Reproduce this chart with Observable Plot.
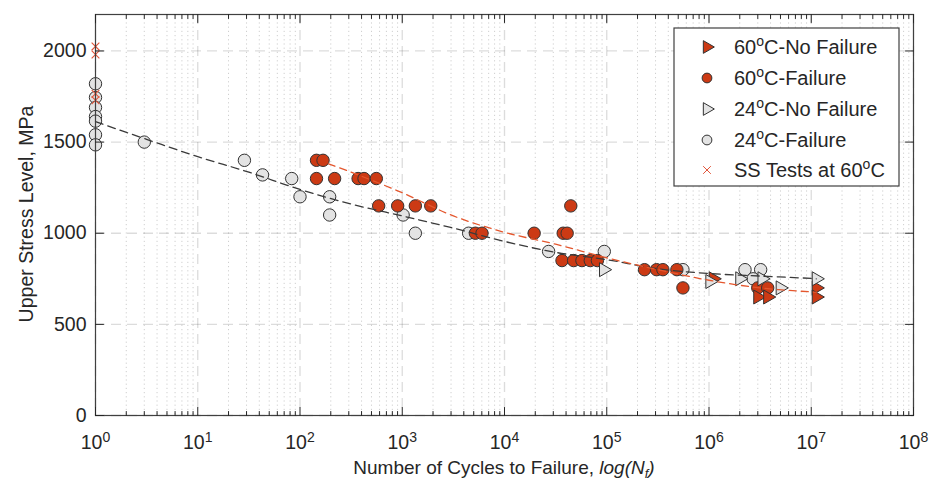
<!DOCTYPE html>
<html><head><meta charset="utf-8">
<script src="https://cdn.jsdelivr.net/npm/d3@7"></script>
<script src="https://cdn.jsdelivr.net/npm/@observablehq/plot@0.6"></script>
<style>body{margin:0;background:#fff}</style>
</head><body><div id="chart"></div>
<script>
// ---- data ----
const noFail60N = [1.1e6, 3.0e6, 3.75e6, 1.12e7, 1.12e7];
const noFail60S = [750, 650, 650, 700, 650];

const fail60N = [145, 168, 145, 218, 370, 423, 558, 588, 902, 1343, 1900, 5190, 6025, 19500, 37500, 41000, 44500,
  36500, 47400, 57200, 69000, 81000, 234000, 307000, 354000, 485000, 556000, 3.0e6, 3.75e6];
const fail60S = [1400, 1400, 1300, 1300, 1300, 1300, 1300, 1150, 1150, 1150, 1150, 1000, 1000, 1000, 1000, 1000, 1150,
  850, 850, 850, 850, 850, 800, 800, 800, 800, 700, 700, 700];

const noFail24N = [93000, 1.02e6, 2.0e6, 3.3e6, 4.97e6, 1.12e7];
const noFail24S = [800, 735, 750, 750, 700, 750];

const fail24N = [1, 1, 1, 1, 1, 1, 1, 3, 28.6, 43, 83, 100, 195, 195, 1020, 1343, 4460, 27000, 94600, 556000, 2.25e6, 3.2e6, 2.7e6];
const fail24S = [1820, 1745, 1690, 1640, 1615, 1540, 1485, 1500, 1400, 1320, 1300, 1200, 1200, 1100, 1100, 1000, 1000, 900, 900, 800, 800, 800, 750];

const ss60N = [1, 1, 1, 1];
const ss60S = [2025, 1980, 1765, 1730];

const fit24N = [1, 3.16, 10, 31.6, 100, 316, 1000, 3160, 1e4, 3.16e4, 1e5, 3.16e5, 1e6, 3.16e6, 1e7, 1.12e7];
const fit24S = [1612, 1515, 1420, 1335, 1240, 1160, 1095, 1028, 955, 895, 855, 805, 779, 765, 752, 750];

const fit60N = [190, 316, 1000, 3160, 1e4, 3.16e4, 1e5, 3.16e5, 1e6, 3.16e6, 1e7, 1.12e7];
const fit60S = [1380, 1335, 1222, 1095, 1005, 940, 865, 800, 742, 700, 678, 676];

const xMajorTicks = [1, 10, 100, 1e3, 1e4, 1e5, 1e6, 1e7, 1e8];
const xTickExponents = ["0", "1", "2", "3", "4", "5", "6", "7", "8"];
const yTicks = [0, 500, 1000, 1500, 2000];

const legendLabels = [
  ["60", "C-No Failure"],
  ["60", "C-Failure"],
  ["24", "C-No Failure"],
  ["24", "C-Failure"],
  ["SS Tests at 60", "C"]
];

// ---- build tables ----
const zip = (N, S) => N.map((n, i) => ({n, s: S[i]}));
const noFail60 = zip(noFail60N, noFail60S);
const fail60 = zip(fail60N, fail60S);
const noFail24 = zip(noFail24N, noFail24S);
const fail24 = zip(fail24N, fail24S);
const ss60 = zip(ss60N, ss60S);
const fit24 = zip(fit24N, fit24S);
const fit60 = zip(fit60N, fit60S);

const xMinorTicks = [];
xMajorTicks.slice(0, -1).forEach(d => { for (let k = 2; k <= 9; k++) xMinorTicks.push(d * k); });

const RED = "#cc3a14", GRAY = "#e3e3e3", EDGE = "#333333", AX = "#262626";
const tickShape = {draw(ctx, l) { ctx.moveTo(0, 0); ctx.lineTo(0, -l); }};
const ticks = (data, ch, anchor, rot, len) => Plot.vector(data, {
  [ch]: d => d, frameAnchor: anchor, rotate: rot, length: len, anchor: "start",
  shape: tickShape, stroke: AX, strokeWidth: 1
});

const svg = Plot.plot({
  width: 932, height: 480,
  marginLeft: 95, marginRight: 19, marginTop: 14, marginBottom: 65,
  style: {fontFamily: "'Liberation Sans', Arial, sans-serif", fontSize: "19.5px", color: AX, background: "#fff"},
  x: {type: "log", domain: [1, 1e8]},
  y: {domain: [0, 2200]},
  marks: [
    Plot.gridX(xMinorTicks, {stroke: AX, strokeOpacity: 0.22, strokeDasharray: "1.2,3"}),
    Plot.gridX(xMajorTicks, {stroke: AX, strokeOpacity: 0.16, strokeDasharray: "10,6", strokeWidth: 1.3}),
    Plot.gridY(yTicks, {stroke: AX, strokeOpacity: 0.16, strokeDasharray: "10,6", strokeWidth: 1.3}),
    Plot.dot(fail24, {x: "n", y: "s", r: 6.2, fill: GRAY, stroke: EDGE, strokeWidth: 1}),
    Plot.dot(fail60, {x: "n", y: "s", r: 6.2, fill: RED, stroke: EDGE, strokeWidth: 1}),
    Plot.dot(noFail60, {x: "n", y: "s", r: 5.2, symbol: "triangle", rotate: 90, fill: RED, stroke: EDGE, strokeWidth: 1}),
    Plot.dot(noFail24, {x: "n", y: "s", r: 5.2, symbol: "triangle", rotate: 90, fill: GRAY, stroke: EDGE, strokeWidth: 1}),
    Plot.dot(ss60, {x: "n", y: "s", r: 3.6, symbol: "times", stroke: "#e2553a", strokeWidth: 1.1}),
    Plot.line(fit24, {x: "n", y: "s", curve: "catmull-rom", stroke: "#3a3a3a", strokeWidth: 1.3, strokeDasharray: "8,5"}),
    Plot.line(fit60, {x: "n", y: "s", curve: "catmull-rom", stroke: "#e4572e", strokeWidth: 1.3, strokeDasharray: "7,5"}),
    Plot.frame({stroke: "#404040", strokeWidth: 1.2}),
    ticks(xMajorTicks, "x", "bottom", 0, 8),
    ticks(xMinorTicks, "x", "bottom", 0, 4),
    ticks(xMajorTicks, "x", "top", 180, 8),
    ticks(xMinorTicks, "x", "top", 180, 4),
    ticks(yTicks, "y", "left", 90, 8),
    ticks(yTicks, "y", "right", -90, 8),
    Plot.axisX(xMajorTicks, {tickSize: 0, tickPadding: 20, label: null,
      tickFormat: d => "10^" + xTickExponents[xMajorTicks.indexOf(d)]}),
    Plot.axisY(yTicks, {tickSize: 0, tickPadding: 9, label: null, tickFormat: d => String(d)})
  ]
});

document.getElementById("chart").appendChild(svg);
const root = d3.select(svg);

// superscripts in x tick labels
root.selectAll('g[aria-label="x-axis tick label"] text').each(function () {
  const t = this.textContent;
  const parts = t.split("^");
  if (parts.length !== 2) return;
  const el = d3.select(this);
  el.text(parts[0]);
  el.append("tspan").attr("dy", "-0.5em").attr("font-size", "0.72em").text(parts[1]);
});

const font = "'Liberation Sans', Arial, sans-serif";

// x label
const xl = root.append("text").attr("x", 504).attr("y", 474).attr("text-anchor", "middle")
  .attr("font-family", font).attr("font-size", 19).attr("fill", AX);
xl.append("tspan").text("Number of Cycles to Failure, ");
xl.append("tspan").attr("font-style", "italic").text("log(N");
xl.append("tspan").attr("font-style", "italic").attr("font-size", 13).attr("dy", 4).text("f");
xl.append("tspan").attr("font-style", "italic").attr("dy", -4).text(")");

// y label
root.append("text").attr("transform", "translate(33,214) rotate(-90)").attr("text-anchor", "middle")
  .attr("font-family", font).attr("font-size", 19.5).attr("fill", AX).text("Upper Stress Level, MPa");

// legend
const lg = root.append("g");
lg.append("rect").attr("x", 674).attr("y", 28).attr("width", 225).attr("height", 158)
  .attr("fill", "#fff").attr("stroke", "#404040").attr("stroke-width", 1.2);
const rowY = [47, 78, 109, 140, 170];
const sym = [
  {type: d3.symbolTriangle, size: 70, rot: 90, fill: RED, stroke: EDGE},
  {type: d3.symbolCircle, size: 75, rot: 0, fill: RED, stroke: EDGE},
  {type: d3.symbolTriangle, size: 70, rot: 90, fill: GRAY, stroke: EDGE},
  {type: d3.symbolCircle, size: 75, rot: 0, fill: GRAY, stroke: EDGE},
  {type: d3.symbolTimes, size: 40, rot: 0, fill: "none", stroke: "#e2553a"}
];
legendLabels.forEach((lab, i) => {
  const s = sym[i];
  lg.append("path").attr("d", d3.symbol(s.type, s.size)())
    .attr("transform", `translate(707,${rowY[i]}) rotate(${s.rot})`)
    .attr("fill", s.fill).attr("stroke", s.stroke).attr("stroke-width", 1);
  const t = lg.append("text").attr("x", 734).attr("y", rowY[i] + 7).attr("text-anchor", "start")
    .attr("font-family", font).attr("font-size", 20).attr("fill", AX);
  t.append("tspan").text(lab[0]);
  t.append("tspan").attr("font-size", 14).attr("dy", -8).text("o");
  t.append("tspan").attr("dy", 8).text(lab[1]);
});
</script></body></html>
